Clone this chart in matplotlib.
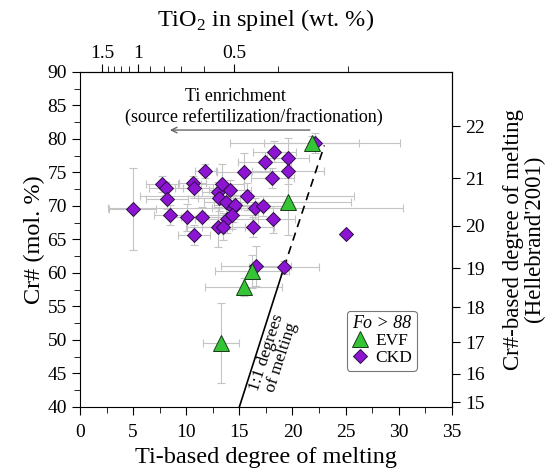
import matplotlib
matplotlib.use("Agg")
import matplotlib.pyplot as plt
import numpy as np

plt.rcParams["font.family"] = ["Liberation Serif", "DejaVu Serif"]
plt.rcParams["mathtext.fontset"] = "custom"
plt.rcParams["mathtext.rm"] = "Liberation Serif"

# CKD samples: Ti-based melting degree, Cr#, errors
ckd_x = [4.96, 7.7, 8.1, 8.2, 8.5, 10.1, 10.6, 10.7, 10.7, 11.5, 11.8, 13.0, 13.4,
         13.1, 13.7, 14.1, 14.4, 14.6, 13.8, 13.0, 13.5, 14.3, 15.4, 15.7, 16.3,
         16.5, 17.2, 17.4, 18.3, 18.1, 18.2, 19.6, 19.6, 19.2, 16.6, 25.0, 22.1]
ckd_y = [69.5, 73.2, 72.6, 71.0, 68.6, 68.3, 73.4, 72.6, 65.6, 68.3, 75.2, 72.1, 73.3,
         71.2, 70.5, 72.3, 69.6, 70.1, 68.0, 66.8, 66.9, 68.6, 75.1, 71.4, 66.9,
         69.6, 70.0, 76.5, 78.1, 74.2, 68.0, 77.1, 75.2, 60.8, 61.0, 65.8, 79.4]
ckd_xerr = [2.2, 1.5, 1.6, 2.0, 1.5, 1.5, 1.3, 1.8, 1.5, 2.0, 1.0, 1.5, 2.0,
            2.0, 2.0, 2.0, 2.0, 2.0, 3.0, 3.0, 2.0, 2.5, 2.5, 10.1, 2.0,
            13.9, 2.0, 2.5, 2.0, 2.0, 2.0, 2.0, 3.4, 3.3, 3.3, 0.0, 8.0]
ckd_yerr = [6.1, 1.2, 1.0, 1.5, 1.5, 2.0, 1.0, 1.5, 1.5, 1.5, 1.0, 1.5, 3.0,
            2.0, 2.0, 1.5, 2.0, 1.5, 2.0, 3.0, 2.0, 2.0, 2.8, 2.0, 1.5,
            1.5, 1.5, 1.5, 1.5, 1.5, 2.0, 3.0, 2.0, 1.0, 3.0, 0.0, 1.5]

# EVF samples
evf_x = [21.8, 19.6, 16.2, 15.4, 13.3]
evf_y = [79.4, 70.6, 60.2, 57.9, 49.5]
evf_xerr = [4.5, 5.9, 3.5, 3.6, 1.7]
evf_yerr = [1.0, 5.0, 2.5, 1.3, 6.0]

# 1:1 melting line (Ti-based F vs Cr#)
line_y = [40, 60.8, 79.0]
line_x = [15.0, 19.2, 23.0]

tio2_major = [1.5, 1, 0.5]
tio2_minor = [1.4, 1.3, 1.2, 1.1, 0.9, 0.8, 0.7, 0.6, 0.4, 0.3]
melt_ticks = [15, 16, 17, 18, 19, 20, 21, 22]


def f_to_tio2(f):
    f = np.clip(np.asarray(f, dtype=float), -6.5, None)
    return ((f + 6.72) / 12.2) ** (-1.25)


def tio2_to_f(t):
    t = np.clip(np.asarray(t, dtype=float), 1e-3, None)
    return 12.2 * t ** (-0.8) - 6.72


def cr_to_melt(cr):
    cr = np.clip(np.asarray(cr, dtype=float), 1e-3, None)
    return 10 * np.log(cr / 100) + 24


def melt_to_cr(f):
    return 100 * np.exp((np.asarray(f, dtype=float) - 24) / 10)


fig = plt.figure(figsize=(5.52, 4.72), dpi=100)
ax = fig.add_axes([0.145, 0.138, 0.6735, 0.71])

ebar = dict(fmt="none", ecolor="#c4c4c4", elinewidth=0.8, capsize=3, capthick=0.8, zorder=1)
ax.errorbar(ckd_x, ckd_y, xerr=ckd_xerr, yerr=ckd_yerr, **ebar)
ax.errorbar(evf_x, evf_y, xerr=evf_xerr, yerr=evf_yerr, **ebar)

ax.plot(line_x[:2], line_y[:2], color="black", lw=1.2, zorder=2)
ax.plot(line_x[1:], line_y[1:], color="black", lw=1.2, ls=(0, (5, 3.5)), zorder=2)

ax.plot(ckd_x, ckd_y, ls="none", marker="D", ms=7.5, mfc="#8c14d2", mec="#2a1040",
        mew=0.7, zorder=3, label="CKD")
ax.plot(evf_x, evf_y, ls="none", marker="^", ms=11, mfc="#35c435", mec="#1a3a1a",
        mew=0.7, zorder=4, label="EVF")

ax.text(14.6, 86.3, "Ti enrichment", ha="center", va="center", fontsize=13)
ax.text(16.4, 83.3, "(source refertilization/fractionation)", ha="center", va="center",
        fontsize=13)
ax.annotate("", xy=(8.2, 81.3), xytext=(21.9, 81.3),
            arrowprops=dict(arrowstyle="->", color="#666666", lw=1.0))
ax.text(18.3, 47.8, "1:1 degrees\nof melting", rotation=72, ha="center", va="center",
        fontsize=12.5, linespacing=0.95)

ax.set_xlim(0, 35)
ax.set_ylim(40, 90)
ax.set_xticks(np.arange(0, 36, 5))
ax.set_xticks(np.arange(2.5, 35, 5), minor=True)
ax.set_yticks(np.arange(40, 91, 5))
ax.set_yticks(np.arange(42.5, 90, 5), minor=True)
ax.tick_params(which="both", direction="out", labelsize=14)
ax.tick_params(which="major", length=6)
ax.tick_params(which="minor", length=4)
ax.tick_params(axis="x", pad=6)
ax.set_xlabel("Ti-based degree of melting", fontsize=17.5, labelpad=5)
ax.set_ylabel("Cr# (mol. %)", fontsize=17.5, labelpad=2)

top = ax.secondary_xaxis("top", functions=(f_to_tio2, tio2_to_f))
top.set_xticks(tio2_major, labels=["1.5", "1", "0.5"])
top.set_xticks(tio2_minor, minor=True)
top.tick_params(which="both", direction="out", labelsize=14, pad=1)
top.tick_params(which="major", length=6)
top.tick_params(which="minor", length=4)
top.set_xlabel("TiO$_2$ in spinel (wt. %)", fontsize=17.5, labelpad=14)

right = ax.secondary_yaxis("right", functions=(cr_to_melt, melt_to_cr))
right.set_yticks(melt_ticks)
right.tick_params(direction="out", length=6, labelsize=14)
right.set_ylabel("Cr#-based degree of melting\n(Hellebrand'2001)", fontsize=16.5,
                 linespacing=1.0, labelpad=13)

handles, labels = ax.get_legend_handles_labels()
leg = ax.legend(handles[::-1], labels[::-1], title="Fo > 88", loc="upper left",
                bbox_to_anchor=(0.718, 0.286), borderaxespad=0, fontsize=12.5,
                frameon=True, fancybox=True, edgecolor="#555555", handlelength=1.0,
                handletextpad=0.4, borderpad=0.25, labelspacing=0.05,
                title_fontproperties={"style": "italic", "size": 13})
leg.get_frame().set_linewidth(0.8)

fig.savefig("out.png", dpi=100)
